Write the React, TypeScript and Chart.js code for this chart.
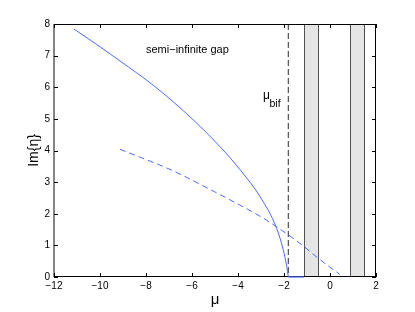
import React, { useEffect, useRef } from "react";
import { Chart, registerables } from "chart.js";

Chart.register(...registerables);

// ---- data ----
const solidMu = [-11.13, -10, -9.13, -7.68, -6.23, -4.78, -3.91, -3.04, -2.32, -2.03, -1.88, -1.81];
const solidIm = [7.84, 7.28, 6.83, 6.06, 5.16, 4.12, 3.39, 2.54, 1.54, 0.85, 0.33, 0];
const flatMu = [-1.81, -1.12];
const flatIm = [0, 0];
const dashedMu = [-9.13, -6.74, -5.22, -4.35, -2.9, -1.81, -1.16, -0.51, 0.43];
const dashedIm = [4.04, 3.33, 2.77, 2.44, 1.86, 1.33, 0.98, 0.59, 0.08];
const bandStart = [-1.12, 0.88];
const bandEnd = [-0.51, 1.49];
const muBif = -1.81;
const xTicks = [-12, -10, -8, -6, -4, -2, 0, 2];
const yTicks = [0, 1, 2, 3, 4, 5, 6, 7, 8];
const gapLabel = "semi\u2212infinite gap";
const gapLabelPos = [-8.0, 7.09];
const bifLabelPos = [-2.91, 5.63];

const FONT = "'Liberation Sans', Arial, Helvetica, sans-serif";
const BLUE = "#4a6cff";

const pts = (xs: number[], ys: number[]) => xs.map((x, i) => ({ x, y: ys[i] }));

const decorPlugin = {
  id: "decor",
  beforeDatasetsDraw(chart: any) {
    const { ctx, chartArea: a, scales } = chart;
    const xs = scales.x;
    const ys = scales.y;
    ctx.save();
    // gray bands
    for (let i = 0; i < bandStart.length; i++) {
      const x0 = Math.round(xs.getPixelForValue(bandStart[i])) + 0.5;
      const x1 = Math.round(xs.getPixelForValue(bandEnd[i])) + 0.5;
      ctx.fillStyle = "#e5e5e5";
      ctx.fillRect(x0, a.top, x1 - x0, a.bottom - a.top);
      ctx.strokeStyle = "#505050";
      ctx.lineWidth = 1;
      ctx.beginPath();
      ctx.moveTo(x0, a.top);
      ctx.lineTo(x0, a.bottom);
      ctx.moveTo(x1, a.top);
      ctx.lineTo(x1, a.bottom);
      ctx.stroke();
    }
    // bifurcation dashed line
    const xb = xs.getPixelForValue(muBif);
    ctx.strokeStyle = "#5a5a5a";
    ctx.lineWidth = 1.3;
    ctx.setLineDash([6, 3]);
    ctx.beginPath();
    ctx.moveTo(xb, a.top);
    ctx.lineTo(xb, a.bottom);
    ctx.stroke();
    ctx.setLineDash([]);

    // box
    ctx.strokeStyle = "#000";
    ctx.lineWidth = 1;
    ctx.beginPath();
    ctx.moveTo(a.left, a.top + 0.5);
    ctx.lineTo(a.right, a.top + 0.5);
    ctx.moveTo(a.right - 0.5, a.top);
    ctx.lineTo(a.right - 0.5, a.bottom);
    ctx.moveTo(a.left, a.bottom - 0.5);
    ctx.lineTo(a.right, a.bottom - 0.5);
    ctx.stroke();
    ctx.strokeStyle = "#666";
    ctx.lineWidth = 1.6;
    ctx.beginPath();
    ctx.moveTo(a.left, a.top);
    ctx.lineTo(a.left, a.bottom);
    ctx.stroke();

    // inward ticks
    ctx.strokeStyle = "#000";
    ctx.lineWidth = 1;
    const tl = 4;
    ctx.beginPath();
    for (const t of xTicks) {
      const px = Math.round(xs.getPixelForValue(t)) + 0.5;
      ctx.moveTo(px, a.bottom);
      ctx.lineTo(px, a.bottom - tl);
      ctx.moveTo(px, a.top);
      ctx.lineTo(px, a.top + tl);
    }
    for (const t of yTicks) {
      const py = Math.round(ys.getPixelForValue(t)) + 0.5;
      ctx.moveTo(a.left, py);
      ctx.lineTo(a.left + tl, py);
      ctx.moveTo(a.right, py);
      ctx.lineTo(a.right - tl, py);
    }
    ctx.stroke();
    ctx.restore();
  },
  afterDatasetsDraw(chart: any) {
    const { ctx, scales } = chart;
    const xs = scales.x;
    const ys = scales.y;
    ctx.save();
    ctx.fillStyle = "#000";
    ctx.textBaseline = "alphabetic";
    ctx.textAlign = "left";
    ctx.font = `11px ${FONT}`;
    ctx.fillText(gapLabel, xs.getPixelForValue(gapLabelPos[0]), ys.getPixelForValue(gapLabelPos[1]));
    const bx = xs.getPixelForValue(bifLabelPos[0]);
    const by = ys.getPixelForValue(bifLabelPos[1]);
    ctx.font = `12px ${FONT}`;
    ctx.fillText("\u03bc", bx, by);
    const w = ctx.measureText("\u03bc").width;
    ctx.font = `10.5px ${FONT}`;
    ctx.fillText("bif", bx + w - 0.5, by + 8);
    ctx.restore();
  },
};

export default function App() {
  const ref = useRef<HTMLCanvasElement>(null);
  useEffect(() => {
    if (!ref.current) return;
    const chart = new Chart(ref.current, {
      type: "scatter",
      data: {
        datasets: [
          {
            data: pts(solidMu, solidIm),
            showLine: true,
            borderColor: BLUE,
            borderWidth: 1,
            pointRadius: 0,
            cubicInterpolationMode: "monotone",
            clip: false,
          },
          {
            data: pts(flatMu, flatIm),
            showLine: true,
            borderColor: BLUE,
            borderWidth: 1.2,
            pointRadius: 0,
            clip: false,
          },
          {
            data: pts(dashedMu, dashedIm),
            showLine: true,
            borderColor: BLUE,
            borderWidth: 1,
            borderDash: [6, 4],
            pointRadius: 0,
            cubicInterpolationMode: "monotone",
          },
        ] as any,
      },
      options: {
        animation: false,
        responsive: false,
        events: [],
        layout: { padding: { top: 24, right: 39, left: 0, bottom: 0 } },
        plugins: { legend: { display: false }, tooltip: { enabled: false } },
        scales: {
          x: {
            type: "linear",
            min: -12,
            max: 2,
            afterFit: (s: any) => {
              s.height = 35;
            },
            grid: { display: false, drawTicks: false },
            border: { display: false },
            ticks: {
              stepSize: 2,
              padding: 3,
              color: "#000",
              font: { size: 10, family: FONT },
              maxRotation: 0,
              callback: (v: any) => String(v).replace("-", "\u2212"),
            },
            title: {
              display: true,
              text: "\u03bc",
              color: "#000",
              font: { size: 15, family: FONT },
              padding: { top: 0, bottom: 3 },
            },
          },
          y: {
            type: "linear",
            min: 0,
            max: 8,
            afterFit: (s: any) => {
              s.width = 54;
            },
            grid: { display: false, drawTicks: false },
            border: { display: false },
            ticks: {
              stepSize: 1,
              padding: 4,
              color: "#000",
              font: { size: 10, family: FONT },
            },
            title: {
              display: true,
              text: "Im{\u03b7}",
              color: "#000",
              font: { size: 14, family: FONT },
              padding: { top: 26, bottom: 0 },
            },
          },
        },
      },
      plugins: [decorPlugin],
    });
    return () => chart.destroy();
  }, []);
  return (
    <div style={{ position: "absolute", left: 0, top: 0, width: 415, height: 312, background: "#fff" }}>
      <canvas ref={ref} width={415} height={312} style={{ display: "block" }} />
    </div>
  );
}
